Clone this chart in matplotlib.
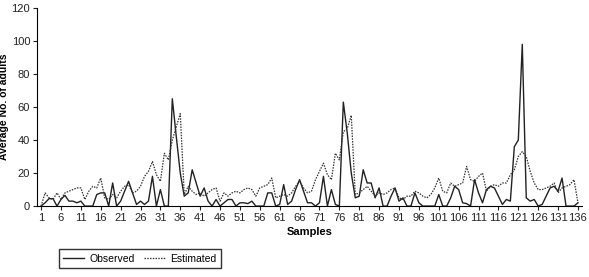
import numpy as np
import matplotlib
matplotlib.use("Agg")
import matplotlib.pyplot as plt

plt.rcParams['font.family'] = ['Liberation Sans Narrow', 'Liberation Sans', 'DejaVu Sans']

# values (samples 1..136)
samples = np.arange(1, 137)

observed = [
    0, 2, 4.5, 4.5, 0, 4, 6.5, 3, 3, 2,
    3, 0, 0, 0, 7, 8, 8, 0, 14, 0,
    3, 9, 15, 8, 1, 3, 1, 3, 18, 0,
    10, 0, 0, 65, 42, 20, 6, 8, 22, 14,
    6, 11, 3, 0, 4, 0, 2, 4, 4, 0,
    2, 2, 1.5, 3, 0, 0, 0, 8, 8, 0,
    1, 13, 1, 3, 10, 16, 9, 2, 2, 0,
    2, 18, 0, 10, 1, 0, 63, 44, 20, 5,
    6, 22, 14, 14, 5, 11, 0, 0, 6, 11,
    3, 5, 0, 0, 8, 2, 0, 0, 0, 0,
    7, 0, 0, 5, 12, 10, 2, 1.5, 0, 16,
    8, 2, 10, 12, 11, 6, 1, 4, 3, 36,
    40, 98, 5, 3, 4, 0, 1, 6, 11, 12,
    9, 17, 0, 0, 0, 2,
]

estimated = [
    0, 8, 5, 4, 8, 4, 8, 9, 10, 11,
    11, 4, 9, 12, 11, 17, 5, 4, 7, 5,
    9, 12, 13, 8, 9, 12, 18, 21, 27, 19,
    15, 32, 28, 40, 48, 56, 7, 12, 9, 7,
    8, 6, 8, 10, 11, 3, 8, 6, 8, 9,
    8, 10, 11, 10, 6, 11, 12, 13, 17, 5,
    6, 7, 6, 8, 12, 15, 11, 8, 9, 16,
    21, 26, 19, 16, 32, 28, 45, 47, 55, 7,
    8, 10, 12, 9, 6, 8, 7, 8, 10, 11,
    5, 4, 6, 6, 9, 8, 6, 5, 7, 11,
    17, 9, 8, 14, 12, 13, 14, 24, 16, 15,
    18, 20, 9, 12, 13, 12, 14, 14, 19, 22,
    30, 33, 30, 21, 14, 10, 10, 11, 12, 14,
    8, 11, 12, 13, 16, 2,
]

xticks = list(range(1, 137, 5))

fig = plt.figure(figsize=(5.89, 2.77), dpi=100)
ax = fig.add_axes([0.063, 0.256, 0.925, 0.715])

ax.plot(samples, observed, color='#222222', lw=1.0, label='Observed')
ax.plot(samples, estimated, color='#333333', lw=0.9, linestyle=(0, (1.2, 1.0)), label='Estimated')

ax.set_xlim(0.0, 137.0)
ax.set_ylim(0, 120)
ax.set_yticks(range(0, 121, 20))
ax.set_xticks(xticks)
ax.tick_params(axis='both', labelsize=8, length=3, width=0.8, pad=2, colors='#222222')
for side in ['top', 'right']:
    ax.spines[side].set_visible(False)
ax.spines['left'].set_linewidth(0.8)
ax.spines['bottom'].set_linewidth(0.8)

ax.set_xlabel('Samples', fontsize=8, fontweight='bold', labelpad=3)
ax.set_ylabel('Average No. of adults', fontsize=7.5, fontweight='bold')
ax.yaxis.set_label_coords(-0.052, 0.5)

fig.legend(loc='lower left', bbox_to_anchor=(0.091, 0.012), ncol=2, fontsize=7.5,
           frameon=True, fancybox=False, edgecolor='black', handlelength=2.0,
           handletextpad=0.5, columnspacing=0.9, borderpad=0.45)

fig.savefig('out.png', dpi=100)
